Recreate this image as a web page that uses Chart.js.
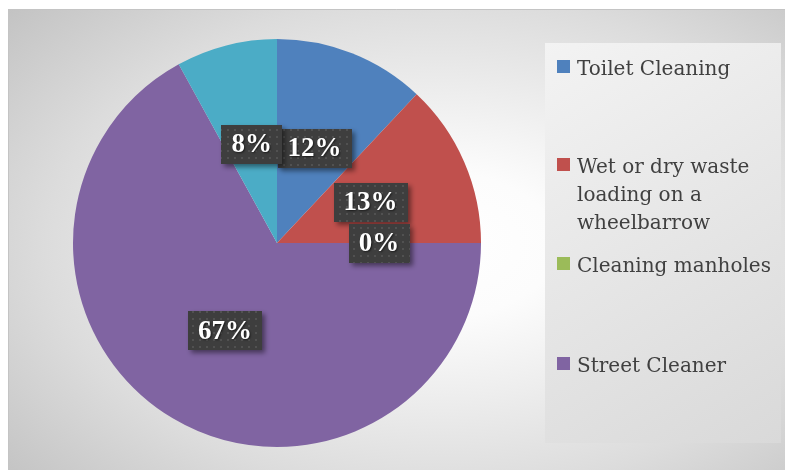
<!DOCTYPE html>
<html>
<head>
<meta charset="utf-8">
<script src="https://cdn.jsdelivr.net/npm/chart.js@4"></script>
<style>
    html, body { margin: 0; padding: 0; background: #ffffff; }
    #wrap { width: 785px; height: 470px; }
</style>
</head>
<body>
<div id="wrap"><canvas id="pieChart" width="785" height="470"></canvas></div>
<script>
// task categories (the last slice has no name, so it is left out of the legend)
const categories = ['Toilet Cleaning', 'Wet or dry waste loading on a wheelbarrow', 'Cleaning manholes', 'Street Cleaner', ''];
const legendLines = [['Toilet Cleaning'], ['Wet or dry waste', 'loading on a', 'wheelbarrow'], ['Cleaning manholes'], ['Street Cleaner']];
const shares = [12, 13, 0, 67, 8];
const sliceColors = ['#4F81BD', '#C0504D', '#9BBB59', '#8064A2', '#4BACC6'];

// backgrounds: outer radial fill and the lighter legend panel
const backdrop = {
    id: 'backdrop',
    beforeDraw(chart) {
        const ctx = chart.ctx;
        ctx.save();
        ctx.fillStyle = '#ffffff';
        ctx.fillRect(0, 0, chart.width, chart.height);

        ctx.save();
        ctx.beginPath();
        ctx.rect(8, 9, chart.width - 8, chart.height - 9);
        ctx.clip();
        ctx.translate(440, 245);
        ctx.scale(1, 300 / 480);
        const g = ctx.createRadialGradient(0, 0, 0, 0, 0, 580);
        g.addColorStop(0, '#ffffff');
        g.addColorStop(0.2, '#fcfcfc');
        g.addColorStop(0.68, '#dcdcdc');
        g.addColorStop(1, '#c2c2c2');
        ctx.fillStyle = g;
        ctx.fillRect(-600, -800, 1400, 1600);
        ctx.restore();

        ctx.strokeStyle = '#c4c4c4';
        ctx.lineWidth = 1;
        ctx.beginPath();
        ctx.moveTo(8.5, chart.height);
        ctx.lineTo(8.5, 9.5);
        ctx.lineTo(chart.width, 9.5);
        ctx.stroke();

        const lg = ctx.createLinearGradient(545, 43, 781, 443);
        lg.addColorStop(0, '#f3f3f3');
        lg.addColorStop(1, '#d9d9d9');
        ctx.fillStyle = lg;
        ctx.fillRect(545, 43, 236, 400);
        ctx.restore();
    }
};

// legend panel on the right
const sideLegend = {
    id: 'sideLegend',
    afterDraw(chart) {
        const ctx = chart.ctx;
        const baselines = [[75], [173, 201, 229], [272], [372]];
        ctx.save();
        ctx.font = '20px "DejaVu Serif", serif';
        ctx.textBaseline = 'alphabetic';
        legendLines.forEach((lines, i) => {
            const y0 = baselines[i][0];
            ctx.fillStyle = sliceColors[i];
            ctx.fillRect(557, y0 - 15, 13, 13);
            ctx.fillStyle = '#404040';
            lines.forEach((t, j) => ctx.fillText(t, 577, baselines[i][j]));
        });
        ctx.restore();
    }
};

function dotPattern(ctx) {
    const c = document.createElement('canvas');
    c.width = 7; c.height = 7;
    const p = c.getContext('2d');
    p.fillStyle = '#3e3e3e';
    p.fillRect(0, 0, 7, 7);
    p.fillStyle = '#515151';
    p.fillRect(3, 3, 2, 2);
    return ctx.createPattern(c, 'repeat');
}

// percentage callouts in dark boxes, halfway out along each slice
const valueBoxes = {
    id: 'valueBoxes',
    afterDatasetsDraw(chart) {
        const ctx = chart.ctx;
        const meta = chart.getDatasetMeta(0);
        const fill = dotPattern(ctx);
        ctx.save();
        ctx.font = 'bold 27px "Liberation Serif", serif';
        ctx.textAlign = 'center';
        ctx.textBaseline = 'middle';
        meta.data.forEach((arc, i) => {
            const p = arc.getProps(['x', 'y', 'startAngle', 'endAngle', 'outerRadius'], true);
            const mid = (p.startAngle + p.endAngle) / 2;
            const cx = p.x + Math.cos(mid) * p.outerRadius * 0.5;
            const cy = p.y + Math.sin(mid) * p.outerRadius * 0.5;
            const text = shares[i] + '%';
            const w = ctx.measureText(text).width + 20;
            const h = 39;
            ctx.save();
            ctx.shadowColor = 'rgba(0,0,0,0.45)';
            ctx.shadowBlur = 5;
            ctx.shadowOffsetX = 3;
            ctx.shadowOffsetY = 3;
            ctx.fillStyle = fill;
            ctx.fillRect(Math.round(cx - w / 2), Math.round(cy - h / 2), Math.round(w), h);
            ctx.restore();
            ctx.save();
            ctx.shadowColor = 'rgba(0,0,0,0.6)';
            ctx.shadowBlur = 2;
            ctx.shadowOffsetX = 1;
            ctx.shadowOffsetY = 1;
            ctx.fillStyle = '#ffffff';
            ctx.fillText(text, cx, cy + 1);
            ctx.restore();
        });
        ctx.restore();
    }
};

new Chart(document.getElementById('pieChart'), {
    type: 'pie',
    data: {
        labels: categories,
        datasets: [{
            data: shares,
            backgroundColor: sliceColors,
            borderWidth: 0
        }]
    },
    options: {
        responsive: false,
        animation: false,
        devicePixelRatio: 1,
        layout: {
            padding: { left: 73, right: 304, top: 39, bottom: 23 }
        },
        plugins: {
            legend: { display: false },
            tooltip: { enabled: false }
        }
    },
    plugins: [backdrop, valueBoxes, sideLegend]
});
</script>
</body>
</html>
